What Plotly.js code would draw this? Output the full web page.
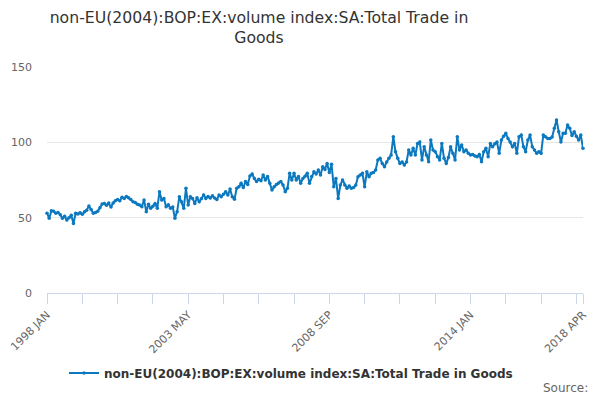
<!DOCTYPE html>
<html>
<head>
<meta charset="utf-8">
<script src="https://cdn.plot.ly/plotly-3.0.1.min.js"></script>
<style>html,body{margin:0;padding:0;background:#fff;}#chart{width:600px;height:400px;}</style>
</head>
<body>
<div id="chart"></div>
<script>
const MONTHS = ['JAN','FEB','MAR','APR','MAY','JUN','JUL','AUG','SEP','OCT','NOV','DEC'];
const START_YEAR = 1998;
const SERIES_NAME = 'non-EU(2004):BOP:EX:volume index:SA:Total Trade in Goods';

const v1998 = [52.9, 49.6, 54.6, 54.2, 52.9, 53.5, 52.0, 49.6, 51.0, 48.5, 50.0, 51.6];
const v1999 = [46.2, 52.9, 52.5, 53.2, 52.3, 53.9, 55.0, 57.7, 55.5, 52.9, 53.5, 54.2];
const v2000 = [56.5, 59.0, 59.4, 58.2, 59.7, 57.0, 59.8, 61.3, 62.0, 61.2, 63.5, 62.8];
const v2001 = [64.0, 63.2, 62.0, 60.5, 60.0, 58.9, 58.4, 57.3, 61.7, 54.0, 58.9, 56.2];
const v2002 = [57.5, 59.4, 56.2, 67.2, 61.7, 62.8, 57.3, 58.5, 56.2, 57.0, 49.6, 54.0];
const v2003 = [63.9, 60.6, 56.2, 69.5, 58.4, 63.9, 62.8, 59.4, 63.2, 60.6, 62.5, 65.0];
const v2004 = [62.8, 64.0, 63.0, 64.5, 63.0, 62.0, 65.0, 63.9, 65.5, 67.2, 65.0, 69.0];
const v2005 = [63.9, 62.2, 69.5, 70.5, 72.8, 70.0, 74.0, 72.0, 77.6, 79.0, 76.0, 74.0];
const v2006 = [75.5, 74.5, 78.3, 75.0, 77.4, 72.8, 68.3, 70.5, 72.0, 73.0, 74.0, 71.7];
const v2007 = [67.2, 69.5, 79.4, 75.0, 79.4, 75.0, 77.4, 72.8, 76.0, 77.5, 79.4, 72.8];
const v2008 = [77.4, 80.5, 79.0, 81.6, 78.3, 83.8, 82.0, 86.0, 80.0, 85.4, 70.5, 76.0];
const v2009 = [62.8, 71.7, 75.0, 71.7, 69.5, 71.0, 69.5, 70.0, 71.7, 77.2, 78.3, 79.4];
const v2010 = [70.5, 80.5, 77.2, 79.4, 80.0, 81.6, 88.3, 89.4, 86.0, 83.8, 87.0, 89.4];
const v2011 = [91.6, 103.7, 93.8, 89.4, 86.0, 87.0, 84.9, 87.0, 94.9, 91.6, 96.0, 91.6];
const v2012 = [99.3, 100.2, 88.3, 97.1, 91.6, 87.1, 101.5, 94.9, 93.8, 90.5, 88.3, 99.3];
const v2013 = [89.4, 86.0, 90.0, 97.1, 92.7, 88.3, 103.7, 94.9, 98.2, 93.8, 94.9, 92.7];
const v2014 = [91.6, 92.0, 91.0, 90.5, 92.0, 87.1, 93.8, 96.0, 90.5, 99.3, 97.1, 99.0];
const v2015 = [100.2, 92.7, 101.5, 104.0, 106.0, 102.6, 100.2, 97.1, 99.3, 92.7, 103.7, 104.8];
const v2016 = [97.1, 93.8, 101.5, 104.8, 97.1, 94.9, 92.7, 93.8, 92.7, 104.8, 103.7, 102.6];
const v2017 = [102.6, 103.5, 109.3, 114.8, 107.0, 100.2, 106.0, 106.0, 111.5, 109.3, 104.5, 107.0];
const v2018 = [104.0, 101.5, 104.8, 96.0];

const yearly = [v1998, v1999, v2000, v2001, v2002, v2003, v2004, v2005, v2006, v2007,
                v2008, v2009, v2010, v2011, v2012, v2013, v2014, v2015, v2016, v2017, v2018];

const labels = [];
const values = [];
yearly.forEach((arr, yi) => {
  arr.forEach((val, mi) => {
    labels.push((START_YEAR + yi) + ' ' + MONTHS[mi]);
    values.push(val);
  });
});

const TICK_LABELS = ['1998 JAN', '2003 MAY', '2008 SEP', '2014 JAN', '2018 APR'];
const tickvals = [];
const ticktext = [];
for (let i = 0; i < labels.length; i += 16) {
  tickvals.push(labels[i]);
  ticktext.push(TICK_LABELS.includes(labels[i]) ? labels[i] : '');
}
const lastLabel = labels[labels.length - 1];
if (!tickvals.includes(lastLabel)) { tickvals.push(lastLabel); ticktext.push(lastLabel); }

const FONT = 'DejaVu Sans, sans-serif';
const BLUE = '#0b78bf';

const trace = {
  type: 'scatter',
  mode: 'lines+markers',
  x: labels,
  y: values,
  name: SERIES_NAME,
  line: {color: BLUE, width: 2},
  marker: {color: BLUE, size: 3.5},
  cliponaxis: false
};

const layout = {
  width: 600, height: 400,
  margin: {l: 47, r: 17, t: 67, b: 107},
  paper_bgcolor: '#fff', plot_bgcolor: '#fff',
  font: {family: FONT, color: '#666'},
  title: {
    text: 'non-EU(2004):BOP:EX:volume index:SA:Total Trade in<br>Goods',
    font: {family: FONT, size: 15.7, color: '#333'},
    x: 259 / 600, xanchor: 'center', xref: 'container',
    y: 0.943, yanchor: 'top', yref: 'container'
  },
  showlegend: true,
  legend: {
    orientation: 'h', x: 0.485, xanchor: 'center', xref: 'container',
    y: 1 - 373/400, yanchor: 'middle', yref: 'container',
    font: {family: FONT, size: 12, color: '#333', weight: 'bold'},
    itemwidth: 30
  },
  xaxis: {
    type: 'category',
    range: [0, labels.length - 1],
    tickvals: tickvals, ticktext: ticktext,
    tickangle: -45,
    ticks: 'outside', ticklen: 10, tickcolor: '#ccd6eb', tickwidth: 1,
    showline: true, linecolor: '#ccd6eb', linewidth: 1,
    showgrid: false, zeroline: false,
    tickfont: {family: FONT, size: 11, color: '#666'},
    fixedrange: true
  },
  yaxis: {
    range: [0, 150], tickvals: [0, 50, 100, 150],
    showgrid: true, gridcolor: '#e6e6e6', gridwidth: 1,
    zeroline: false, showline: false, ticks: '',
    tickfont: {family: FONT, size: 11, color: '#666'},
    ticklabelstandoff: 14,
    fixedrange: true
  },
  annotations: [{
    text: 'Source:', showarrow: false,
    xref: 'paper', yref: 'paper',
    x: (590 - 47) / 536, xanchor: 'right',
    y: (293 - 388) / 226, yanchor: 'middle',
    font: {family: FONT, size: 12, color: '#666'}
  }]
};

Plotly.newPlot('chart', [trace], layout, {displayModeBar: false, staticPlot: true});
</script>
</body>
</html>
